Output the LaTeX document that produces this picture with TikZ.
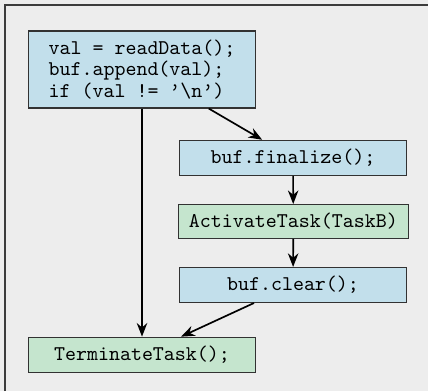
\documentclass[tikz,border=0pt]{standalone}
\usetikzlibrary{arrows.meta}
\definecolor{panelbg}{RGB}{237,237,237}
\definecolor{panelline}{RGB}{60,60,60}
\definecolor{codeblue}{RGB}{194,223,235}
\definecolor{codegreen}{RGB}{197,229,206}
\definecolor{boxline}{RGB}{50,50,50}
\tikzset{
  codebox/.style={draw=boxline, line width=0.5pt, font=\ttfamily\fontsize{10}{10.3}\selectfont,
    align=left, minimum width=108.4pt, minimum height=15.3pt, inner xsep=4.5pt, inner ysep=4.2pt},
  bluebox/.style={codebox, fill=codeblue},
  greenbox/.style={codebox, fill=codegreen},
  flow/.style={-{Stealth[length=6.5pt,width=5pt]}, line width=0.8pt, black}
}
\begin{document}
\begin{tikzpicture}[x=0.4775pt, y=-0.4775pt]
  % panel background and its visible frame edges
  \fill[panelbg] (0,0) rectangle (428,391);
  \useasboundingbox (0,0) rectangle (428,391);
  \draw[panelline, line width=0.8pt] (5,391) -- (5,5) -- (428,5);

  % statements
  \node[bluebox] (read) at (142,69.5) {val = readData();\\buf.append(val);\\if (val != \textquoteright\textbackslash n\textquoteright)};
  \node[bluebox] (fin) at (293,157.8) {buf.finalize();};
  \node[greenbox, minimum width=109.8pt] (act) at (293.3,221.5) {ActivateTask(TaskB)};
  \node[bluebox] (clr) at (293,285) {buf.clear();};
  \node[greenbox] (term) at (142,354.7) {TerminateTask();};

  % control flow
  \draw[flow] (read) -- (fin);
  \draw[flow] (fin) -- (act);
  \draw[flow] (act) -- (clr);
  \draw[flow] (clr) -- (term);
  \draw[flow] (read.south) -- (term.north);
\end{tikzpicture}
\end{document}
